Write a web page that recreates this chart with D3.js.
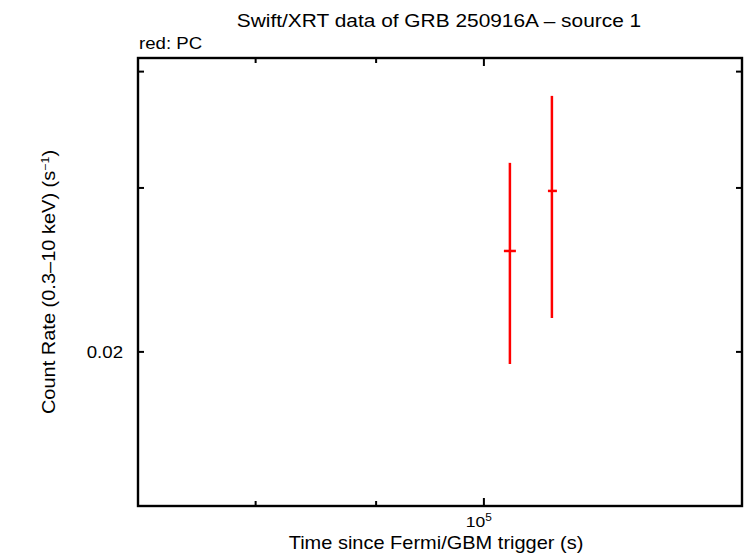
<!DOCTYPE html>
<html>
<head>
<meta charset="utf-8">
<script src="https://cdn.jsdelivr.net/npm/d3@7"></script>
<style>
  body { margin: 0; background: #fff; }
  text { font-family: "Liberation Sans", Arial, sans-serif; fill: #000; }
</style>
</head>
<body>
<div id="chart"></div>
<script>
// data (PC mode)
const pcTime = [102575, 106874]
const pcTimeLo = [101975, 106460]
const pcTimeHi = [103178, 107399]
const pcRate = [0.02567, 0.02978]
const pcRateLo = [0.01941, 0.02175]
const pcRateHi = [0.03192, 0.03767]

const xMajorTicks = [1e5]
const xMinorTicks = [8e4, 9e4]
const yMajorTicks = [0.02]
const yMinorTicks = [0.03, 0.04]

const width = 746
const height = 558
const margin = { top: 58, right: 4, bottom: 52, left: 138 }
// the reference glyphs are a bit wider than Liberation Sans
const stretch = 1.13

const svg = d3.create('svg')
  .attr('width', width)
  .attr('height', height)

const xScale = d3.scaleLog()
  .domain([71310, 128700])
  .range([margin.left, width - margin.right])

const yScale = d3.scaleLog()
  .domain([0.013662, 0.04137])
  .range([height - margin.bottom, margin.top])

const x0 = margin.left
const x1 = width - margin.right
const y0 = height - margin.bottom
const y1 = margin.top

function label(x, y, size, anchor, rotate) {
  const g = svg.append('g')
    .attr('transform', `translate(${x}, ${y})${rotate ? ` rotate(${rotate})` : ''} scale(${stretch}, 1)`)
  return g.append('text')
    .attr('text-anchor', anchor)
    .attr('font-size', size)
}

// ticks on all four sides
const tickG = svg.append('g').attr('stroke', '#000').attr('stroke-width', 2)
const xTicks = xMajorTicks.map(v => ({ v, len: 8 })).concat(xMinorTicks.map(v => ({ v, len: 5 })))
xTicks.forEach(t => {
  const x = xScale(t.v)
  tickG.append('line').attr('x1', x).attr('x2', x).attr('y1', y0).attr('y2', y0 - t.len)
  tickG.append('line').attr('x1', x).attr('x2', x).attr('y1', y1).attr('y2', y1 + t.len)
})
const yTicks = yMajorTicks.concat(yMinorTicks)
yTicks.forEach(v => {
  const y = yScale(v)
  tickG.append('line').attr('x1', x0).attr('x2', x0 + 6).attr('y1', y).attr('y2', y)
  tickG.append('line').attr('x1', x1).attr('x2', x1 - 6).attr('y1', y).attr('y2', y)
})

// frame
svg.append('rect')
  .attr('x', x0).attr('y', y1)
  .attr('width', x1 - x0).attr('height', y0 - y1)
  .attr('fill', 'none').attr('stroke', '#000').attr('stroke-width', 2.4)

// tick labels
xMajorTicks.forEach(v => {
  const t = label(xScale(v) - 5, y0 + 21, 15.5, 'middle')
  t.append('tspan').text('10')
  t.append('tspan').attr('dy', -6).attr('font-size', 10.5).text(Math.round(Math.log10(v)))
})
yMajorTicks.forEach(v => {
  label(x0 - 15, yScale(v) + 6, 16.5, 'end').text(v)
})

// error bars
const errG = svg.append('g').attr('stroke', '#ff0000').attr('stroke-width', 2.5)
pcTime.forEach((t, i) => {
  const x = xScale(t)
  const y = yScale(pcRate[i])
  errG.append('line')
    .attr('x1', x).attr('x2', x)
    .attr('y1', yScale(pcRateLo[i])).attr('y2', yScale(pcRateHi[i]))
  errG.append('line')
    .attr('x1', xScale(pcTimeLo[i])).attr('x2', xScale(pcTimeHi[i]))
    .attr('y1', y).attr('y2', y)
})

// titles
label(439, 27, 18.5, 'middle').text('Swift/XRT data of GRB 250916A \u2013 source 1')
label(x0 + 1, 49, 16.5, 'start').text('red: PC')
label(436, 549, 17.7, 'middle').text('Time since Fermi/GBM trigger (s)')

const yLabel = label(55, 282, 17.7, 'middle', -90)
yLabel.append('tspan').text('Count Rate (0.3\u201310 keV) (s')
yLabel.append('tspan').attr('dy', -6).attr('font-size', 11).text('\u22121')
yLabel.append('tspan').attr('dy', 6).text(')')

document.getElementById('chart').appendChild(svg.node())
</script>
</body>
</html>
